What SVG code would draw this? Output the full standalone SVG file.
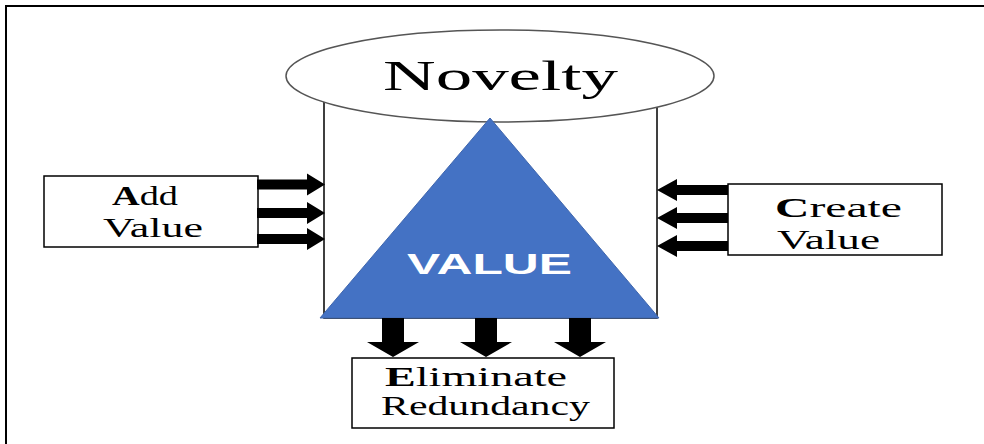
<svg xmlns="http://www.w3.org/2000/svg" width="984" height="444" viewBox="0 0 984 444">
<style>
.box{fill:#fff;stroke:#000;stroke-width:1.5}
.lbl{font-family:"Liberation Serif","Times New Roman",serif;font-size:27px;fill:#000}
.b{font-weight:bold}
.arr{fill:#000}
</style>
<defs>
<path id="arrR" d="M0,-5 L50,-5 L50,-11 L68,0 L50,11 L50,5 L0,5 Z"/>
<path id="arrL" d="M0,-5 L-51,-5 L-51,-11 L-71,0 L-51,11 L-51,5 L0,5 Z"/>
<path id="arrD" d="M-11,0 L-11,24 L-26,24 L0,39 L26,24 L11,24 L11,0 Z"/>
</defs>
<rect x="6" y="6" width="1000" height="460" fill="#fff" stroke="#000" stroke-width="2"/>
<g id="container">
<rect class="box" x="324" y="90" width="333" height="228"/>
</g>
<g id="novelty">
<ellipse cx="500" cy="76" rx="214" ry="46" fill="#fff" stroke="#555" stroke-width="1.5"/>
<text x="383" y="90" font-family="Liberation Serif, serif" font-size="42" textLength="235" lengthAdjust="spacingAndGlyphs">Novelty</text>
</g>
<g id="value">
<polygon points="490,118 320,318 659,318" fill="#4472C4" stroke="#3f66ad" stroke-width="1"/>
<text x="407" y="274" font-family="Liberation Sans, Arial, sans-serif" font-weight="bold" font-size="30" fill="#fff" textLength="165" lengthAdjust="spacingAndGlyphs">VALUE</text>
</g>
<g id="add-value">
<rect class="box" x="44" y="176" width="214" height="71"/>
<text class="lbl" x="112" y="205" textLength="66" lengthAdjust="spacingAndGlyphs"><tspan class="b">A</tspan>dd</text>
<text class="lbl" x="103" y="237" textLength="100" lengthAdjust="spacingAndGlyphs">Value</text>
</g>
<g id="create-value">
<rect class="box" x="728" y="184" width="214" height="71"/>
<text class="lbl" x="775" y="217" textLength="127" lengthAdjust="spacingAndGlyphs"><tspan class="b">C</tspan>reate</text>
<text class="lbl" x="777" y="249" textLength="103" lengthAdjust="spacingAndGlyphs">Value</text>
</g>
<g id="eliminate-redundancy">
<rect class="box" x="352" y="358" width="262" height="70"/>
<text class="lbl" x="385" y="386" textLength="182" lengthAdjust="spacingAndGlyphs"><tspan class="b">E</tspan>liminate</text>
<text class="lbl" x="381" y="415" textLength="209" lengthAdjust="spacingAndGlyphs">Redundancy</text>
</g>
<g id="connectors" class="arr">
<use href="#arrR" x="257" y="184.5"/>
<use href="#arrR" x="257" y="213"/>
<use href="#arrR" x="257" y="239"/>
<use href="#arrL" x="728" y="190"/>
<use href="#arrL" x="728" y="218"/>
<use href="#arrL" x="728" y="246"/>
<use href="#arrD" x="393" y="318"/>
<use href="#arrD" x="486" y="318"/>
<use href="#arrD" x="580" y="318"/>
</g>
</svg>
